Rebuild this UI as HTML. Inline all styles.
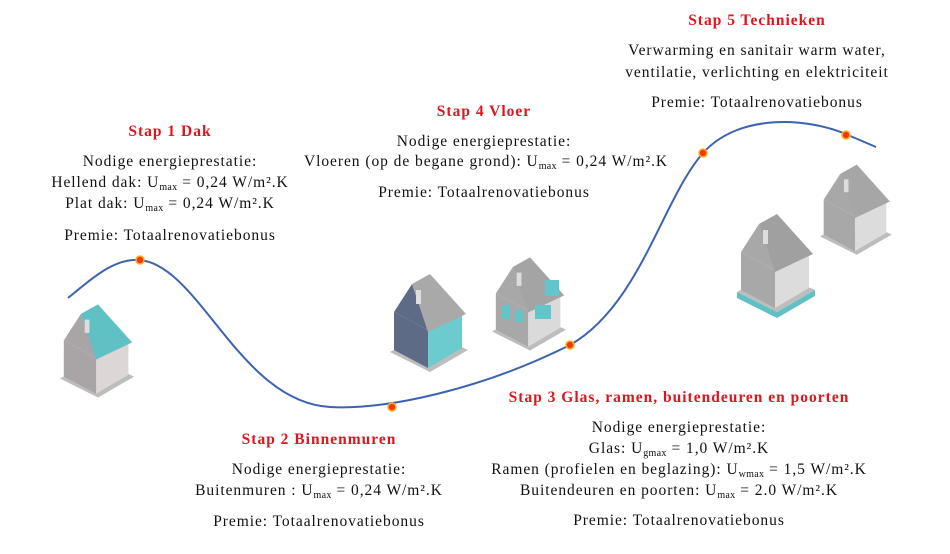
<!DOCTYPE html>
<html><head><meta charset="utf-8"><style>
html,body{margin:0;padding:0;background:#fff;width:950px;height:554px;overflow:hidden}
svg{display:block}
text{font-family:"Liberation Serif",serif;font-size:15.5px;fill:#111;letter-spacing:0.95px}
.h{fill:#e0141c;font-weight:bold;font-size:15.5px;letter-spacing:1px}
.s{font-size:10px;letter-spacing:0.3px}
</style></head><body>
<svg width="950" height="554" viewBox="0 0 950 554">
<defs>
<g id="house">
 <polygon points="0,70 40,90 78,68 38,50" fill="#bdbdbd"/>
 <polygon points="4,30 38,48 38,86 4,68" fill="var(--lw)"/>
 <polygon points="38,48 72,32 72,66 38,86" fill="var(--rw)"/>
 <polygon points="4,30 22,2 38,48" fill="var(--lw)"/>
 <polygon points="22,2 40,-8 76,32 38,50" fill="var(--rf)"/>
 <rect x="26" y="8" width="5" height="14" fill="#ddd"/>
</g>
</defs>

<path d="M68,298 C95,276 115,258 140,260 C200,266 240,402 330,407 C385,410 480,390 570,345 C640,305 662,200 703,153 C740,112 810,118 848,135 L876,147" fill="none" stroke="#3d62b0" stroke-width="2"/>
<g fill="#ef3a12" stroke="#ffb020" stroke-width="1.5">
<circle cx="140" cy="260" r="4"/><circle cx="392" cy="407" r="4"/><circle cx="570" cy="345" r="4"/><circle cx="703" cy="153" r="4"/><circle cx="846" cy="135" r="4"/>
</g>

<use href="#house" transform="translate(60,312) scale(0.95,0.95)" style="--lw:#a9a4a6;--rw:#dcd6d6;--rf:#5fc1c3"/>
<use href="#house" transform="translate(390,282)" style="--lw:#5e6b86;--rw:#6ccbcf;--rf:#a9a9a9"/>
<use href="#house" transform="translate(492,265) scale(0.95)" style="--lw:#a8a8a8;--rw:#dadada;--rf:#a4a4a4"/>
<use href="#house" transform="translate(737,222) scale(1.0)" style="--lw:#a8a8a8;--rw:#dcdcdc;--rf:#a0a0a0"/>
<use href="#house" transform="translate(820,172) scale(0.92)" style="--lw:#a8a8a8;--rw:#dcdcdc;--rf:#a6a6a6"/>
<polygon points="737,292 777,312 815,290 815,296 777,318 737,298" fill="#5fc1c3"/>
<g fill="#62c5c9"><rect x="502" y="305" width="8" height="14"/><rect x="515" y="310" width="8" height="12"/><rect x="535" y="305" width="16" height="14"/><rect x="545" y="280" width="14" height="16"/></g>

<g text-anchor="middle">
<text class="h" x="170" y="136">Stap 1 Dak</text>
<text x="170" y="166">Nodige energieprestatie:</text>
<text x="170" y="187">Hellend dak: U<tspan class="s" dy="3">max</tspan><tspan dy="-3"> = 0,24 W/m².K</tspan></text>
<text x="170" y="208">Plat dak: U<tspan class="s" dy="3">max</tspan><tspan dy="-3"> = 0,24 W/m².K</tspan></text>
<text x="170" y="240">Premie: Totaalrenovatiebonus</text>

<text class="h" x="484" y="116">Stap 4 Vloer</text>
<text x="484" y="146">Nodige energieprestatie:</text>
<text x="486" y="166">Vloeren (op de begane grond): U<tspan class="s" dy="3">max</tspan><tspan dy="-3"> = 0,24 W/m².K</tspan></text>
<text x="484" y="197">Premie: Totaalrenovatiebonus</text>

<text class="h" x="757" y="25">Stap 5 Technieken</text>
<text x="757" y="55">Verwarming en sanitair warm water,</text>
<text x="757" y="77">ventilatie, verlichting en elektriciteit</text>
<text x="757" y="107">Premie: Totaalrenovatiebonus</text>

<text class="h" x="319" y="444">Stap 2 Binnenmuren</text>
<text x="319" y="474">Nodige energieprestatie:</text>
<text x="319" y="495">Buitenmuren : U<tspan class="s" dy="3">max</tspan><tspan dy="-3"> = 0,24 W/m².K</tspan></text>
<text x="319" y="526">Premie: Totaalrenovatiebonus</text>

<text class="h" x="679" y="402">Stap 3 Glas, ramen, buitendeuren en poorten</text>
<text x="679" y="432">Nodige energieprestatie:</text>
<text x="679" y="453">Glas: U<tspan class="s" dy="3">gmax</tspan><tspan dy="-3"> = 1,0 W/m².K</tspan></text>
<text x="679" y="474">Ramen (profielen en beglazing): U<tspan class="s" dy="3">wmax</tspan><tspan dy="-3"> = 1,5 W/m².K</tspan></text>
<text x="679" y="495">Buitendeuren en poorten: U<tspan class="s" dy="3">max</tspan><tspan dy="-3"> = 2.0 W/m².K</tspan></text>
<text x="679" y="525">Premie: Totaalrenovatiebonus</text>
</g>
</svg>
</body></html>
